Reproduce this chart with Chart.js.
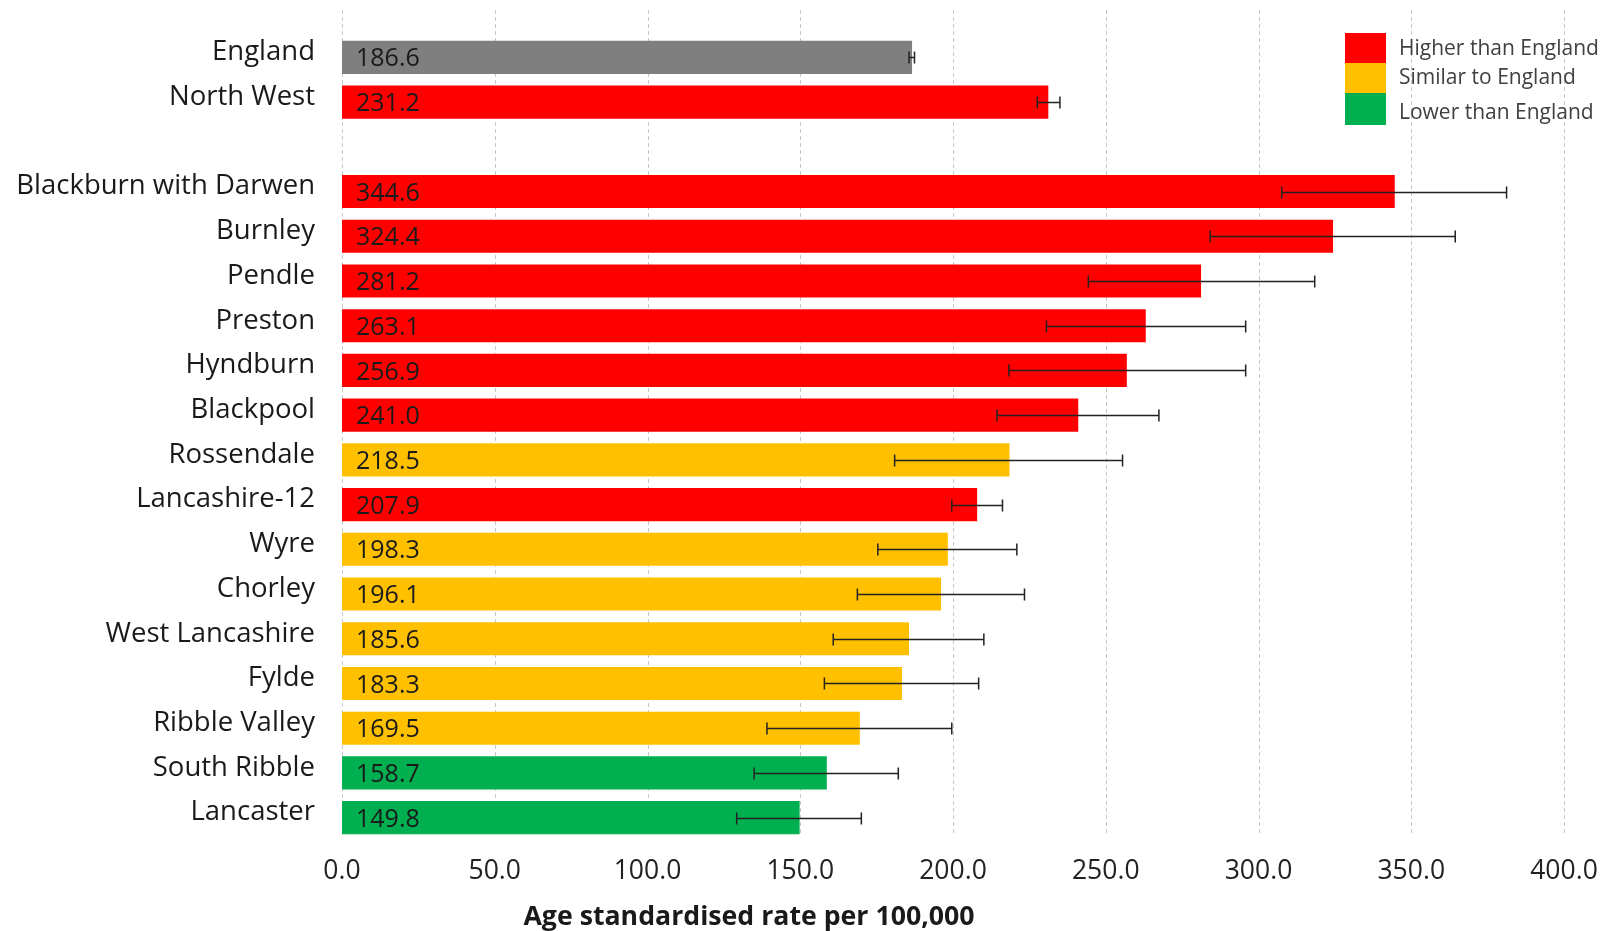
<!DOCTYPE html>
<html>
<head>
<meta charset="utf-8">
<script src="https://cdn.jsdelivr.net/npm/chart.js@4.4.1/dist/chart.umd.min.js"></script>
<style>
  html, body { margin: 0; padding: 0; background: #fff; }
  #wrap { position: relative; width: 1606px; height: 931px; }
</style>
</head>
<body>
<div id="wrap"><canvas id="chart"></canvas></div>
<script>
// data (empty label = spacer row)
const areas = ["England", "North West", "", "Blackburn with Darwen", "Burnley", "Pendle", "Preston",
  "Hyndburn", "Blackpool", "Rossendale", "Lancashire-12", "Wyre", "Chorley", "West Lancashire",
  "Fylde", "Ribble Valley", "South Ribble", "Lancaster"];
const rates = [186.6, 231.2, null, 344.6, 324.4, 281.2, 263.1, 256.9, 241.0, 218.5, 207.9, 198.3,
  196.1, 185.6, 183.3, 169.5, 158.7, 149.8];
const lowerCI = [185.6, 227.6, null, 307.6, 284.2, 244.3, 230.6, 218.3, 214.4, 180.9, 199.6, 175.4,
  168.7, 160.8, 157.9, 139.1, 134.9, 129.2];
const upperCI = [187.4, 235.0, null, 381.2, 364.4, 318.4, 295.8, 295.8, 267.4, 255.5, 216.2, 220.9,
  223.4, 210.1, 208.4, 199.6, 182.1, 170.0];
const comparison = ["benchmark", "higher", null, "higher", "higher", "higher", "higher", "higher",
  "higher", "similar", "higher", "similar", "similar", "similar", "similar", "similar", "lower", "lower"];

const xTicks = [0, 50, 100, 150, 200, 250, 300, 350, 400];
const axisTitle = "Age standardised rate per 100,000";

const legendKeys = ["higher", "similar", "lower"];
const legendLabels = ["Higher than England", "Similar to England", "Lower than England"];

const COLORS = { benchmark: "#7F7F7F", higher: "#FF0000", similar: "#FFC000", lower: "#00B050" };
const FONT = "'Open Sans', Lato, sans-serif";

const $ = (id) => document.getElementById(id);

// dashed vertical grid, reaching above the first bar like the original
const gridPlugin = {
  id: "dashGrid",
  beforeDatasetsDraw(chart){
    const { ctx, chartArea, scales: { x } } = chart;
    ctx.save();
    ctx.strokeStyle = "#C8C8C8";
    ctx.lineWidth = 1;
    ctx.setLineDash([4, 3]);
    xTicks.forEach(v => {
      const px = Math.round(x.getPixelForValue(v)) + 0.5;
      ctx.beginPath();
      ctx.moveTo(px, 10);
      ctx.lineTo(px, chartArea.bottom - 6);
      ctx.stroke();
    });
    ctx.restore();
  }
};

// value labels inside bars + confidence interval whiskers
const barExtras = {
  id: "barExtras",
  afterDatasetsDraw(chart){
    const { ctx, scales: { x, y } } = chart;
    ctx.save();
    ctx.font = `25px ${FONT}`;
    ctx.fillStyle = "#1A1A1A";
    ctx.textBaseline = "middle";
    ctx.textAlign = "left";
    rates.forEach((v, i) => {
      if (v == null) return;
      const cy = y.getPixelForValue(i);
      ctx.fillText(v.toFixed(1), x.getPixelForValue(0) + 14, cy + 2);
    });

    ctx.strokeStyle = "#222";
    ctx.lineWidth = 1.5;
    rates.forEach((v, i) => {
      if (v == null) return;
      const cy = Math.round(y.getPixelForValue(i)) + 0.5;
      const x1 = x.getPixelForValue(lowerCI[i]);
      const x2 = x.getPixelForValue(upperCI[i]);
      ctx.beginPath();
      ctx.moveTo(x1, cy); ctx.lineTo(x2, cy);
      ctx.moveTo(x1, cy - 6); ctx.lineTo(x1, cy + 6);
      ctx.moveTo(x2, cy - 6); ctx.lineTo(x2, cy + 6);
      ctx.stroke();
    });
    ctx.restore();
  }
};

// legend block (top right) and axis title
const decorations = {
  id: "decorations",
  afterDraw(chart){
    const { ctx } = chart;
    ctx.save();
    const boxX = 1345, boxW = 41;
    const boxTops = [33, 63, 93];
    const boxH = [30, 30, 32];
    const textY = [49, 78, 113];
    legendKeys.forEach((k, i) => {
      ctx.fillStyle = COLORS[k];
      ctx.fillRect(boxX, boxTops[i], boxW, boxH[i]);
    });
    ctx.font = `21px ${FONT}`;
    ctx.fillStyle = "#404040";
    ctx.textBaseline = "middle";
    ctx.textAlign = "left";
    legendLabels.forEach((t, i) => ctx.fillText(t, 1399, textY[i]));

    ctx.font = `bold 26.7px ${FONT}`;
    ctx.fillStyle = "#1A1A1A";
    ctx.textAlign = "center";
    ctx.fillText(axisTitle, 749, 917);
    ctx.restore();
  }
};

new Chart($("chart"), {
  type: "bar",
  data: {
    labels: areas,
    datasets: [{
      data: rates,
      backgroundColor: comparison.map(c => c ? COLORS[c] : "transparent"),
      borderWidth: 0,
      barPercentage: 0.74,
      categoryPercentage: 1
    }]
  },
  options: {
    indexAxis: "y",
    responsive: true,
    maintainAspectRatio: false,
    animation: false,
    devicePixelRatio: 1,
    layout: { padding: { top: 35, right: 42, left: 0, bottom: 0 } },
    plugins: { legend: { display: false }, tooltip: { enabled: false } },
    scales: {
      x: {
        min: 0, max: 400,
        afterBuildTicks(scale){ scale.ticks = xTicks.map(v => ({ value: v })); },
        afterFit(scale){
          scale.height = 91;
          scale.paddingRight = 0;
        },
        grid: { display: false, drawTicks: false },
        border: { display: false },
        ticks: {
          padding: 16,
          color: "#222",
          font: { family: FONT, size: 26.5 },
          maxRotation: 0,
          callback: (v) => Number(v).toFixed(1)
        }
      },
      y: {
        afterFit(scale){
          scale.width = 342;
          // let layout.padding decide the top/bottom inset, not the label size
          scale.paddingTop = 0;
          scale.paddingBottom = 0;
        },
        grid: { display: false, drawTicks: false },
        border: { display: false },
        ticks: {
          padding: 27,
          labelOffset: -5,
          color: "#1A1A1A",
          font: { family: FONT, size: 27.5 },
          autoSkip: false
        }
      }
    }
  },
  plugins: [gridPlugin, barExtras, decorations]
});
</script>
</body>
</html>
